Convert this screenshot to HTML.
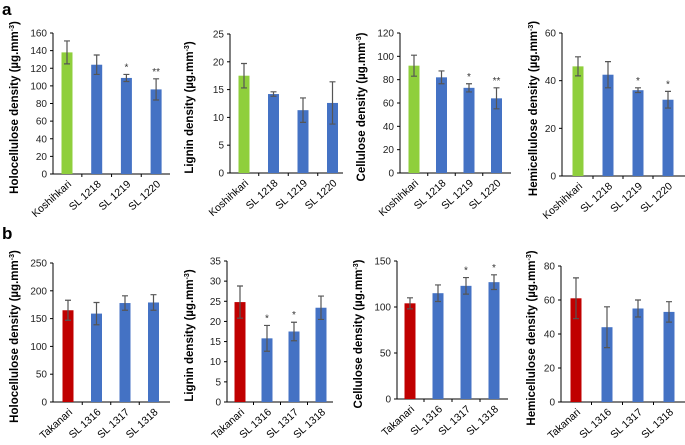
<!DOCTYPE html>
<html><head><meta charset="utf-8"><style>
body{margin:0;background:#fff;width:685px;height:440px;overflow:hidden}
svg{font-family:"Liberation Sans",Arial,sans-serif}
</style></head><body>
<svg id="fig" width="685" height="440" viewBox="0 0 685 440">
<text x="2" y="15" font-size="17" font-weight="bold">a</text>
<text x="2" y="239" font-size="17" font-weight="bold">b</text>
</svg>
<script>
const catsA = ["Koshihkari","SL 1218","SL 1219","SL 1220"];
const catsB = ["Takanari","SL 1316","SL 1317","SL 1318"];
const holoA = [138,124,109,96];
const holoAErr = [13,11,4,12];
const holoAStar = ["","","*","**"];
const ligA = [17.5,14.2,11.3,12.6];
const ligAErr = [2.2,0.4,2.2,3.8];
const ligAStar = ["","","",""];
const celA = [92,82,73,64];
const celAErr = [9,5.5,3.5,9];
const celAStar = ["","","*","**"];
const hemA = [46,42.5,36,32];
const hemAErr = [4,5.5,1,3.5];
const hemAStar = ["","","*","*"];
const holoB = [165,159,178,179];
const holoBErr = [18,20,13,14];
const holoBStar = ["","","",""];
const ligB = [24.8,15.8,17.5,23.4];
const ligBErr = [4,3.2,2.3,2.9];
const ligBStar = ["","*","*",""];
const celB = [104,115,123,127];
const celBErr = [6,9,9,8];
const celBStar = ["","","*","*"];
const hemB = [61,44,55,53];
const hemBErr = [12,12,5,6];
const hemBStar = ["","","",""];
const ticksA1=[0,20,40,60,80,100,120,140,160], ticksA2=[0,5,10,15,20,25], ticksA3=[0,20,40,60,80,100,120], ticksA4=[0,20,40,60];
const ticksB1=[0,50,100,150,200,250], ticksB2=[0,5,10,15,20,25,30,35], ticksB3=[0,50,100,150], ticksB4=[0,20,40,60,80];

const NS="http://www.w3.org/2000/svg";
const svg=document.getElementById('fig');
function mk(tag,attrs,parent){const e=document.createElementNS(NS,tag);for(const k in attrs)e.setAttribute(k,attrs[k]);(parent||svg).appendChild(e);return e;}

function panel(id,title,cats,vals,errs,stars,ticks,ctrl,first,L){
  const g=mk('g',{});
  
  
  const max=ticks[ticks.length-1];
  const y=v=>L.y0-(v/max)*(L.y0-L.y1);
  const cx=i=>L.c0+i*L.sp;
  const ax=mk('line',{x1:L.x,y1:L.y1,x2:L.x,y2:L.y0,stroke:'#000','stroke-width':1},g);
  
  const bx=mk('line',{x1:L.x,y1:L.y0,x2:L.xr,y2:L.y0,stroke:'#000','stroke-width':1},g);
  
  ticks.forEach(t=>{
    mk('line',{x1:L.x-3,y1:y(t),x2:L.x,y2:y(t),stroke:'#000'},g);
    const tl=mk('text',{x:L.x-6,y:y(t)+3.5,'font-size':10,'text-anchor':'end',fill:'#222'},g);
    tl.textContent=t;
    
  });
  for(let i=1;i<cats.length;i++){const xx=(cx(i-1)+cx(i))/2;mk('line',{x1:xx,y1:L.y0,x2:xx,y2:L.y0+3,stroke:'#000'},g);}
  vals.forEach((v,i)=>{
    const w=11;
    const r=mk('rect',{x:cx(i)-w/2,y:y(v),width:w,height:L.y0-y(v),fill:i==0?first:'#4472c4'},g);
    
    
    const e=errs[i];
    const eb=mk('path',{d:`M${cx(i)},${y(v+e)}V${y(v-e)}M${cx(i)-3},${y(v+e)}H${cx(i)+3}M${cx(i)-3},${y(v-e)}H${cx(i)+3}`,stroke:'#555','stroke-width':1.2,fill:'none'},g);
    
    if(stars[i]){const s=mk('text',{x:cx(i),y:y(v+e)-4,'font-size':10,'text-anchor':'middle',fill:'#333'},g);s.textContent=stars[i];
      }
    const xl=mk('text',{x:cx(i)+5,y:L.y0+11,'font-size':10.5,'text-anchor':'end',transform:`rotate(-42 ${cx(i)+5} ${L.y0+11})`},g);
    xl.textContent=cats[i];
    
  });
  const tt=mk('text',{x:0,y:0,'font-size':11.5,'font-weight':'bold','text-anchor':'middle',transform:`translate(${L.tx},${(L.y0+L.y1)/2+4}) rotate(-90)`},g);
  tt.innerHTML=title+' (µg.mm<tspan dy="-4" font-size="7">-3</tspan><tspan dy="4">)</tspan>';
  
}
const G='#8fcf3c',R='#c00000';
panel('holocellulose-a','Holocellulose density',catsA,holoA,holoAErr,holoAStar,ticksA1,0,G,{x:53,xr:170,y0:174,y1:33,c0:67,sp:29.7,tx:18});
panel('lignin-a','Lignin density',catsA,ligA,ligAErr,ligAStar,ticksA2,0,G,{x:230,xr:343,y0:173,y1:34,c0:244,sp:29.5,tx:193});
panel('cellulose-a','Cellulose density',catsA,celA,celAErr,celAStar,ticksA3,0,G,{x:400,xr:511,y0:173,y1:33,c0:414,sp:27.5,tx:365});
panel('hemicellulose-a','Hemicellulose density',catsA,hemA,hemAErr,hemAStar,ticksA4,0,G,{x:562,xr:685,y0:176,y1:33,c0:578,sp:30,tx:537});
panel('holocellulose-b','Holocellulose density',catsB,holoB,holoBErr,holoBStar,ticksB1,0,R,{x:53,xr:170,y0:402,y1:263,c0:68,sp:28.5,tx:18});
panel('lignin-b','Lignin density',catsB,ligB,ligBErr,ligBStar,ticksB2,0,R,{x:227,xr:333,y0:402,y1:261,c0:240,sp:27,tx:193});
panel('cellulose-b','Cellulose density',catsB,celB,celBErr,celBStar,ticksB3,0,R,{x:397,xr:508,y0:399,y1:261,c0:410,sp:28,tx:362});
panel('hemicellulose-b','Hemicellulose density',catsB,hemB,hemBErr,hemBStar,ticksB4,0,R,{x:561,xr:685,y0:402,y1:266,c0:576,sp:31,tx:535});
</script>
</body></html>
